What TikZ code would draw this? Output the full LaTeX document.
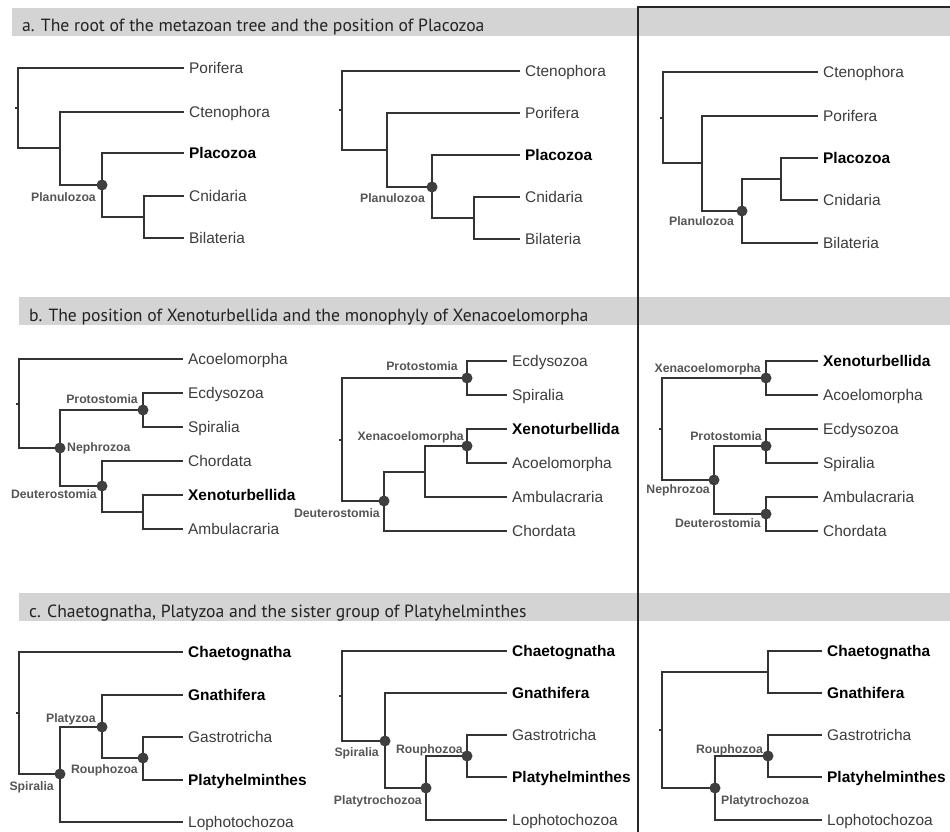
\documentclass[tikz,border=0pt]{standalone}
\usepackage{fontspec}
\setmainfont{Liberation Sans}
\newfontfamily\headfont{PT Sans}
\usepackage{tikz}

\definecolor{barfill}{HTML}{D4D4D4}
\definecolor{wire}{HTML}{333333}
\definecolor{leaftext}{HTML}{3C3C3C}
\definecolor{cladetext}{HTML}{555555}
\definecolor{dotfill}{HTML}{3F3F3F}
\definecolor{headtext}{HTML}{222222}

\tikzset{
    branchline/.style={draw=wire, line width=2bp},
    leaf/.style={anchor=west, inner xsep=5pt, inner ysep=1pt, text height=11pt, text depth=0pt,
        text=leaftext, font=\fontsize{15.5}{18}\selectfont},
    keyleaf/.style={leaf, text=black, font=\fontsize{15.5}{18}\selectfont\bfseries},
    clade/.style={inner sep=0pt, text height=9pt, text depth=0pt, text=cladetext,
        font=\fontsize{12.3}{14}\selectfont\bfseries},
    nodedot/.style={fill=dotfill},
    headbar/.style={fill=barfill},
    headline/.style={anchor=base west, inner sep=0pt, text=headtext, font=\headfont\fontsize{17.7}{20}\selectfont},
    panelframe/.style={draw=black!85, line width=2bp}
}

\begin{document}
\begin{tikzpicture}[x=1bp, y=-1bp]
    \useasboundingbox (0, 0) rectangle (950, 832);

    % Heading bars:
    \fill[headbar] (12, 8) rectangle (950, 36);
    \fill[headbar] (19, 297) rectangle (950, 325);
    \fill[headbar] (19, 593) rectangle (950, 621);
    \node[headline] (heada) at (22, 31) {a. The root of the metazoan tree and the position of Placozoa};
    \node[headline] (headb) at (29, 321) {b. The position of Xenoturbellida and the monophyly of Xenacoelomorpha};
    \node[headline] (headc) at (29, 617) {c. Chaetognatha, Platyzoa and the sister group of Platyhelminthes};
    \draw[panelframe] (950, 7) -- (638, 7) -- (638, 832);

    % a, left tree:
    \coordinate (a1root) at (18, 108);
    \coordinate (a1n1) at (60, 148);
    \coordinate (a1plan) at (102, 185);
    \coordinate (a1cb) at (144, 217);
    \node[leaf] (a1por) at (184, 68) {Porifera};
    \node[leaf] (a1cte) at (184, 112) {Ctenophora};
    \node[keyleaf] (a1pla) at (184, 153) {Placozoa};
    \node[leaf] (a1cni) at (184, 196) {Cnidaria};
    \node[leaf] (a1bil) at (184, 238) {Bilateria};
    \draw[branchline] (a1root) -- ++(-3, 0);
    \draw[branchline] (a1root) |- (a1por);
    \draw[branchline] (a1root) |- (a1n1);
    \draw[branchline] (a1n1) |- (a1cte);
    \draw[branchline] (a1n1) |- (a1plan);
    \draw[branchline] (a1plan) |- (a1pla);
    \draw[branchline] (a1plan) |- (a1cb);
    \draw[branchline] (a1cb) |- (a1cni);
    \draw[branchline] (a1cb) |- (a1bil);
    \fill[nodedot] (a1plan) circle (5.5bp);
    \node[clade, anchor=east] (a1planlab) at (96, 197) {Planulozoa};

    % a, middle tree:
    \coordinate (a2root) at (342, 110);
    \coordinate (a2n1) at (387, 150);
    \coordinate (a2plan) at (432, 187);
    \coordinate (a2cb) at (474, 218);
    \node[leaf] (a2cte) at (520, 71) {Ctenophora};
    \node[leaf] (a2por) at (520, 113) {Porifera};
    \node[keyleaf] (a2pla) at (520, 155) {Placozoa};
    \node[leaf] (a2cni) at (520, 197) {Cnidaria};
    \node[leaf] (a2bil) at (520, 239) {Bilateria};
    \draw[branchline] (a2root) -- ++(-3, 0);
    \draw[branchline] (a2root) |- (a2cte);
    \draw[branchline] (a2root) |- (a2n1);
    \draw[branchline] (a2n1) |- (a2por);
    \draw[branchline] (a2n1) |- (a2plan);
    \draw[branchline] (a2plan) |- (a2pla);
    \draw[branchline] (a2plan) |- (a2cb);
    \draw[branchline] (a2cb) |- (a2cni);
    \draw[branchline] (a2cb) |- (a2bil);
    \fill[nodedot] (a2plan) circle (5.5bp);
    \node[clade, anchor=east] (a2planlab) at (425, 198) {Planulozoa};

    % a, right tree:
    \coordinate (a3root) at (663, 118);
    \coordinate (a3n1) at (702, 163);
    \coordinate (a3plan) at (742, 211);
    \coordinate (a3pc) at (781, 179);
    \node[leaf] (a3cte) at (818, 72) {Ctenophora};
    \node[leaf] (a3por) at (818, 116) {Porifera};
    \node[keyleaf] (a3pla) at (818, 158) {Placozoa};
    \node[leaf] (a3cni) at (818, 200) {Cnidaria};
    \node[leaf] (a3bil) at (818, 243) {Bilateria};
    \draw[branchline] (a3root) -- ++(-3, 0);
    \draw[branchline] (a3root) |- (a3cte);
    \draw[branchline] (a3root) |- (a3n1);
    \draw[branchline] (a3n1) |- (a3por);
    \draw[branchline] (a3n1) |- (a3plan);
    \draw[branchline] (a3plan) |- (a3pc);
    \draw[branchline] (a3plan) |- (a3bil);
    \draw[branchline] (a3pc) |- (a3pla);
    \draw[branchline] (a3pc) |- (a3cni);
    \fill[nodedot] (a3plan) circle (5.5bp);
    \node[clade, anchor=east] (a3planlab) at (734, 221) {Planulozoa};

    % b, left tree:
    \coordinate (b1root) at (19, 404);
    \coordinate (b1neph) at (60, 448);
    \coordinate (b1proto) at (143, 410);
    \coordinate (b1deut) at (102, 486);
    \coordinate (b1xa) at (143, 512);
    \node[leaf] (b1aco) at (183, 359) {Acoelomorpha};
    \node[leaf] (b1ecd) at (183, 393) {Ecdysozoa};
    \node[leaf] (b1spi) at (183, 427) {Spiralia};
    \node[leaf] (b1cho) at (183, 461) {Chordata};
    \node[keyleaf] (b1xen) at (183, 495) {Xenoturbellida};
    \node[leaf] (b1amb) at (183, 529) {Ambulacraria};
    \draw[branchline] (b1root) -- ++(-3, 0);
    \draw[branchline] (b1root) |- (b1aco);
    \draw[branchline] (b1root) |- (b1neph);
    \draw[branchline] (b1neph) |- (b1proto);
    \draw[branchline] (b1neph) |- (b1deut);
    \draw[branchline] (b1proto) |- (b1ecd);
    \draw[branchline] (b1proto) |- (b1spi);
    \draw[branchline] (b1deut) |- (b1cho);
    \draw[branchline] (b1deut) |- (b1xa);
    \draw[branchline] (b1xa) |- (b1xen);
    \draw[branchline] (b1xa) |- (b1amb);
    \fill[nodedot] (b1neph) circle (5.5bp);
    \fill[nodedot] (b1proto) circle (5.5bp);
    \fill[nodedot] (b1deut) circle (5.5bp);
    \node[clade, anchor=east] (b1protolab) at (138, 399) {Protostomia};
    \node[clade, anchor=west] (b1nephlab) at (67, 447) {Nephrozoa};
    \node[clade, anchor=east] (b1deutlab) at (97, 494) {Deuterostomia};

    % b, middle tree:
    \coordinate (b2root) at (342, 440);
    \coordinate (b2proto) at (467, 378);
    \coordinate (b2deut) at (384, 501);
    \coordinate (b2xaa) at (425, 472);
    \coordinate (b2xeno) at (467, 446);
    \node[leaf] (b2ecd) at (507, 361) {Ecdysozoa};
    \node[leaf] (b2spi) at (507, 395) {Spiralia};
    \node[keyleaf] (b2xen) at (507, 429) {Xenoturbellida};
    \node[leaf] (b2aco) at (507, 463) {Acoelomorpha};
    \node[leaf] (b2amb) at (507, 497) {Ambulacraria};
    \node[leaf] (b2cho) at (507, 531) {Chordata};
    \draw[branchline] (b2root) -- ++(-3, 0);
    \draw[branchline] (b2root) |- (b2proto);
    \draw[branchline] (b2root) |- (b2deut);
    \draw[branchline] (b2proto) |- (b2ecd);
    \draw[branchline] (b2proto) |- (b2spi);
    \draw[branchline] (b2deut) |- (b2xaa);
    \draw[branchline] (b2deut) |- (b2cho);
    \draw[branchline] (b2xaa) |- (b2xeno);
    \draw[branchline] (b2xaa) |- (b2amb);
    \draw[branchline] (b2xeno) |- (b2xen);
    \draw[branchline] (b2xeno) |- (b2aco);
    \fill[nodedot] (b2proto) circle (5.5bp);
    \fill[nodedot] (b2xeno) circle (5.5bp);
    \fill[nodedot] (b2deut) circle (5.5bp);
    \node[clade, anchor=east] (b2protolab) at (458, 366) {Protostomia};
    \node[clade, anchor=east] (b2xenolab) at (464, 436) {Xenacoelomorpha};
    \node[clade, anchor=east] (b2deutlab) at (380, 513) {Deuterostomia};

    % b, right tree:
    \coordinate (b3root) at (662, 429);
    \coordinate (b3xeno) at (766, 378);
    \coordinate (b3neph) at (714, 480);
    \coordinate (b3proto) at (766, 446);
    \coordinate (b3deut) at (766, 514);
    \node[keyleaf] (b3xen) at (818, 361) {Xenoturbellida};
    \node[leaf] (b3aco) at (818, 395) {Acoelomorpha};
    \node[leaf] (b3ecd) at (818, 429) {Ecdysozoa};
    \node[leaf] (b3spi) at (818, 463) {Spiralia};
    \node[leaf] (b3amb) at (818, 497) {Ambulacraria};
    \node[leaf] (b3cho) at (818, 531) {Chordata};
    \draw[branchline] (b3root) -- ++(-3, 0);
    \draw[branchline] (b3root) |- (b3xeno);
    \draw[branchline] (b3root) |- (b3neph);
    \draw[branchline] (b3xeno) |- (b3xen);
    \draw[branchline] (b3xeno) |- (b3aco);
    \draw[branchline] (b3neph) |- (b3proto);
    \draw[branchline] (b3neph) |- (b3deut);
    \draw[branchline] (b3proto) |- (b3ecd);
    \draw[branchline] (b3proto) |- (b3spi);
    \draw[branchline] (b3deut) |- (b3amb);
    \draw[branchline] (b3deut) |- (b3cho);
    \fill[nodedot] (b3xeno) circle (5.5bp);
    \fill[nodedot] (b3neph) circle (5.5bp);
    \fill[nodedot] (b3proto) circle (5.5bp);
    \fill[nodedot] (b3deut) circle (5.5bp);
    \node[clade, anchor=east] (b3xenolab) at (761, 368) {Xenacoelomorpha};
    \node[clade, anchor=east] (b3protolab) at (762, 436) {Protostomia};
    \node[clade, anchor=east] (b3nephlab) at (710, 489) {Nephrozoa};
    \node[clade, anchor=east] (b3deutlab) at (761, 523) {Deuterostomia};

    % c, left tree:
    \coordinate (c1root) at (19, 713);
    \coordinate (c1spir) at (60, 774);
    \coordinate (c1platy) at (102, 727);
    \coordinate (c1rouph) at (143, 758);
    \node[keyleaf] (c1cha) at (183, 652) {Chaetognatha};
    \node[keyleaf] (c1gna) at (183, 695) {Gnathifera};
    \node[leaf] (c1gas) at (183, 737) {Gastrotricha};
    \node[keyleaf] (c1pla) at (183, 780) {Platyhelminthes};
    \node[leaf] (c1lop) at (183, 822) {Lophotochozoa};
    \draw[branchline] (c1root) -- ++(-3, 0);
    \draw[branchline] (c1root) |- (c1cha);
    \draw[branchline] (c1root) |- (c1spir);
    \draw[branchline] (c1spir) |- (c1platy);
    \draw[branchline] (c1spir) |- (c1lop);
    \draw[branchline] (c1platy) |- (c1gna);
    \draw[branchline] (c1platy) |- (c1rouph);
    \draw[branchline] (c1rouph) |- (c1gas);
    \draw[branchline] (c1rouph) |- (c1pla);
    \fill[nodedot] (c1spir) circle (5.5bp);
    \fill[nodedot] (c1platy) circle (5.5bp);
    \fill[nodedot] (c1rouph) circle (5.5bp);
    \node[clade, anchor=east] (c1platylab) at (96, 718) {Platyzoa};
    \node[clade, anchor=east] (c1rouphlab) at (138, 769) {Rouphozoa};
    \node[clade, anchor=east] (c1spirlab) at (54, 786) {Spiralia};

    % c, middle tree:
    \coordinate (c2root) at (342, 696);
    \coordinate (c2spir) at (385, 741);
    \coordinate (c2ptro) at (426, 788);
    \coordinate (c2rouph) at (467, 756);
    \node[keyleaf] (c2cha) at (507, 651) {Chaetognatha};
    \node[keyleaf] (c2gna) at (507, 693) {Gnathifera};
    \node[leaf] (c2gas) at (507, 735) {Gastrotricha};
    \node[keyleaf] (c2pla) at (507, 777) {Platyhelminthes};
    \node[leaf] (c2lop) at (507, 820) {Lophotochozoa};
    \draw[branchline] (c2root) -- ++(-3, 0);
    \draw[branchline] (c2root) |- (c2cha);
    \draw[branchline] (c2root) |- (c2spir);
    \draw[branchline] (c2spir) |- (c2gna);
    \draw[branchline] (c2spir) |- (c2ptro);
    \draw[branchline] (c2ptro) |- (c2rouph);
    \draw[branchline] (c2ptro) |- (c2lop);
    \draw[branchline] (c2rouph) |- (c2gas);
    \draw[branchline] (c2rouph) |- (c2pla);
    \fill[nodedot] (c2spir) circle (5.5bp);
    \fill[nodedot] (c2ptro) circle (5.5bp);
    \fill[nodedot] (c2rouph) circle (5.5bp);
    \node[clade, anchor=east] (c2spirlab) at (379, 752) {Spiralia};
    \node[clade, anchor=east] (c2rouphlab) at (463, 749) {Rouphozoa};
    \node[clade, anchor=east] (c2ptrolab) at (422, 800) {Platytrochozoa};

    % c, right tree:
    \coordinate (c3root) at (662, 730);
    \coordinate (c3cg) at (768, 672);
    \coordinate (c3ptro) at (715, 788);
    \coordinate (c3rouph) at (768, 756);
    \node[keyleaf] (c3cha) at (822, 651) {Chaetognatha};
    \node[keyleaf] (c3gna) at (822, 693) {Gnathifera};
    \node[leaf] (c3gas) at (822, 735) {Gastrotricha};
    \node[keyleaf] (c3pla) at (822, 777) {Platyhelminthes};
    \node[leaf] (c3lop) at (822, 820) {Lophotochozoa};
    \draw[branchline] (c3root) -- ++(-3, 0);
    \draw[branchline] (c3root) |- (c3cg);
    \draw[branchline] (c3root) |- (c3ptro);
    \draw[branchline] (c3cg) |- (c3cha);
    \draw[branchline] (c3cg) |- (c3gna);
    \draw[branchline] (c3ptro) |- (c3rouph);
    \draw[branchline] (c3ptro) |- (c3lop);
    \draw[branchline] (c3rouph) |- (c3gas);
    \draw[branchline] (c3rouph) |- (c3pla);
    \fill[nodedot] (c3ptro) circle (5.5bp);
    \fill[nodedot] (c3rouph) circle (5.5bp);
    \node[clade, anchor=east] (c3rouphlab) at (763, 749) {Rouphozoa};
    \node[clade, anchor=west] (c3ptrolab) at (721, 800) {Platytrochozoa};
\end{tikzpicture}
\end{document}
